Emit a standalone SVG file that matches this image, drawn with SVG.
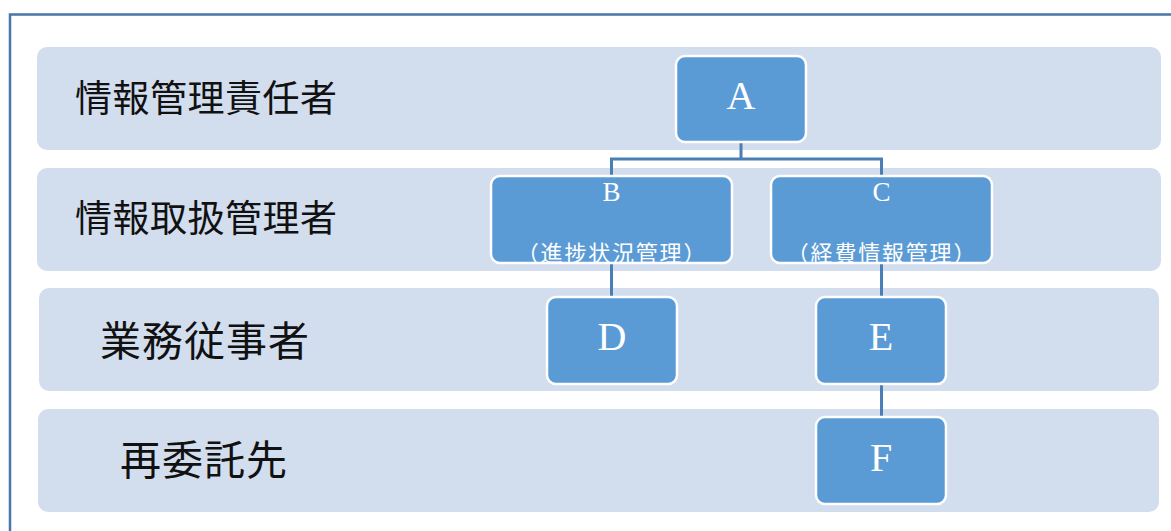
<svg xmlns="http://www.w3.org/2000/svg" width="1171" height="531" viewBox="0 0 1171 531">
<style>
.band{fill:#d2ddee;}
.node{fill:#5b9bd5;stroke:#ffffff;stroke-width:2.5;}
.lbl{font-family:"Noto Sans CJK JP","Liberation Serif",serif;fill:#111111;dominant-baseline:central;}
.let{font-family:"Liberation Serif",serif;fill:#ffffff;text-anchor:middle;}
.sub{font-family:"Noto Sans CJK JP",sans-serif;fill:#ffffff;text-anchor:middle;dominant-baseline:central;font-size:22px;letter-spacing:1.8px;}
.con{fill:none;stroke:#4a7fb5;stroke-width:3;}
</style>
<rect width="1171" height="531" fill="#ffffff"/>
<path d="M10,531 V14.5 H1171" fill="none" stroke="#4a76a8" stroke-width="2.5"/>
<g id="bands">
<g id="band1"><rect class="band" x="37" y="47" width="1124" height="103" rx="10"/><text class="lbl" x="75" y="96" font-size="37" letter-spacing="0.5">情報管理責任者</text></g>
<g id="band2"><rect class="band" x="37" y="168" width="1124" height="103" rx="10"/><text class="lbl" x="75" y="216" font-size="37" letter-spacing="0.5">情報取扱管理者</text></g>
<g id="band3"><rect class="band" x="39" y="288" width="1120" height="103" rx="10"/><text class="lbl" x="100" y="338" font-size="41" letter-spacing="1">業務従事者</text></g>
<g id="band4"><rect class="band" x="38" y="409" width="1121" height="103" rx="10"/><text class="lbl" x="120" y="457" font-size="41" letter-spacing="1">再委託先</text></g>
</g>
<g id="connectors">
<path class="con" d="M741,142 V159 M611.5,176 V159 H881.5 V176"/>
<path class="con" d="M611.5,263 V297"/>
<path class="con" d="M881.5,263 V297"/>
<path class="con" d="M881.5,384 V417"/>
</g>
<g id="nodeA"><rect class="node" x="676" y="56" width="130" height="86" rx="9"/><text class="let" x="741" y="109" font-size="40">A</text></g>
<g id="nodeB"><rect class="node" x="491" y="176" width="241" height="87" rx="9"/><text class="let" x="611.5" y="201" font-size="27">B</text><text class="sub" x="612" y="251">（進捗状況管理）</text></g>
<g id="nodeC"><rect class="node" x="771" y="176" width="221" height="87" rx="9"/><text class="let" x="881.5" y="201" font-size="27">C</text><text class="sub" x="882" y="251">（経費情報管理）</text></g>
<g id="nodeD"><rect class="node" x="547" y="297" width="130" height="87" rx="9"/><text class="let" x="612" y="350" font-size="40">D</text></g>
<g id="nodeE"><rect class="node" x="816" y="297" width="130" height="87" rx="9"/><text class="let" x="881" y="350" font-size="40">E</text></g>
<g id="nodeF"><rect class="node" x="816" y="417" width="130" height="87" rx="9"/><text class="let" x="881" y="471" font-size="40">F</text></g>
</svg>
